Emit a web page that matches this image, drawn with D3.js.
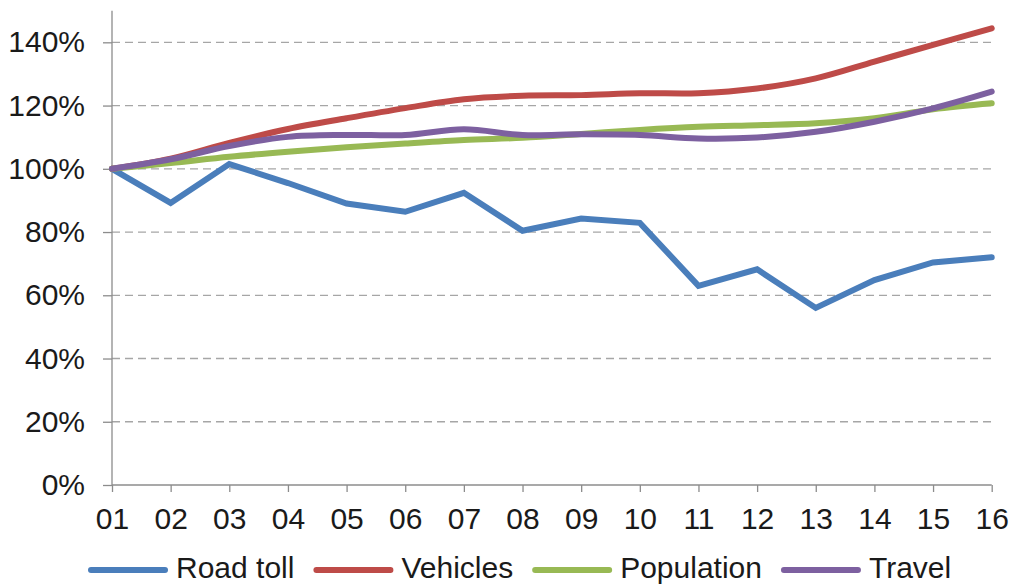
<!DOCTYPE html>
<html>
<head>
<meta charset="utf-8">
<script src="https://cdn.jsdelivr.net/npm/d3@7"></script>
<style>
  html, body { margin: 0; padding: 0; background: #fff; }
  svg { display: block; font-family: "Liberation Sans", Arial, sans-serif; }
</style>
</head>
<body>
<svg id="chart" width="1011" height="586"></svg>
<script>
// Year labels (2001–2016) and indexed series, 2001 = 100%
const years = ["01","02","03","04","05","06","07","08","09","10","11","12","13","14","15","16"];
const roadToll   = [100, 89.2, 101.5, 95.5, 89.0, 86.4, 92.4, 80.4, 84.3, 82.9, 63.0, 68.2, 56.0, 64.8, 70.4, 72.0];
const vehicles   = [100, 103.2, 108.2, 112.6, 116.0, 119.2, 122.0, 123.1, 123.3, 123.9, 123.9, 125.4, 128.6, 133.9, 139.2, 144.4];
const population = [100, 101.8, 103.8, 105.4, 106.8, 108.0, 109.1, 109.8, 111.0, 112.3, 113.3, 113.8, 114.4, 116.0, 118.8, 120.7];
const travel     = [100, 103.0, 107.2, 110.1, 110.7, 110.7, 112.5, 110.7, 110.9, 110.7, 109.6, 109.9, 111.7, 114.9, 119.1, 124.4];
const yTicks     = [0, 20, 40, 60, 80, 100, 120, 140];
const seriesNames = ["Road toll", "Vehicles", "Population", "Travel"];

const series = [
  { name: seriesNames[0], values: roadToll,   color: "#4a7ebb", smooth: false },
  { name: seriesNames[1], values: vehicles,   color: "#be4b48", smooth: true },
  { name: seriesNames[2], values: population, color: "#98b954", smooth: true },
  { name: seriesNames[3], values: travel,     color: "#7d60a0", smooth: true }
];

const svg = d3.select("#chart");
const plotLeft = 112, plotRight = 991.7, plotTop = 10.7, plotBottom = 485;

const x = d3.scalePoint().domain(years).range([plotLeft, plotRight]);
const y = d3.scaleLinear().domain([0, 150]).range([plotBottom, plotTop]);

const axisColor = "#8c8c8c";
const textColor = "#1a1a1a";
const fontSize = 30;

// Dashed horizontal gridlines
svg.append("g")
  .selectAll("line")
  .data(yTicks.filter(d => d > 0))
  .join("line")
  .attr("x1", plotLeft).attr("x2", plotRight)
  .attr("y1", d => y(d)).attr("y2", d => y(d))
  .attr("stroke", "#a6a6a6")
  .attr("stroke-width", 1.3)
  .attr("stroke-dasharray", "8,5");

// Y axis
const yAxis = svg.append("g")
  .attr("transform", `translate(${plotLeft},0)`)
  .call(d3.axisLeft(y).tickValues(yTicks).tickFormat(d => d + "%").tickSize(9).tickPadding(18));
yAxis.select(".domain").attr("stroke", axisColor).attr("stroke-width", 1.3)
  .attr("d", `M0,${plotTop}V${plotBottom}`);
yAxis.selectAll(".tick line").attr("stroke", axisColor).attr("stroke-width", 1.3);
yAxis.selectAll(".tick text")
  .attr("fill", textColor)
  .style("font-size", fontSize + "px")
  .style("font-family", "'Liberation Sans', Arial, sans-serif");

// X axis
const xAxis = svg.append("g")
  .attr("transform", `translate(0,${plotBottom})`)
  .call(d3.axisBottom(x).tickSize(7).tickPadding(16));
xAxis.select(".domain").attr("stroke", axisColor).attr("stroke-width", 1.3)
  .attr("d", `M${plotLeft},0H${plotRight}`);
xAxis.selectAll(".tick line").attr("stroke", axisColor).attr("stroke-width", 1.3);
xAxis.selectAll(".tick text")
  .attr("fill", textColor)
  .style("font-size", fontSize + "px")
  .style("font-family", "'Liberation Sans', Arial, sans-serif");

// Series lines
series.forEach(s => {
  const line = d3.line()
    .x((d, i) => x(years[i]))
    .y(d => y(d))
    .curve(s.smooth ? d3.curveCatmullRom.alpha(0.5) : d3.curveLinear);
  svg.append("path")
    .datum(s.values)
    .attr("fill", "none")
    .attr("stroke", s.color)
    .attr("stroke-width", 6)
    .attr("stroke-linecap", "round")
    .attr("stroke-linejoin", s.smooth ? "round" : "miter")
    .attr("d", line);
});

// Legend: swatch line, then label, laid out left to right
const legend = svg.append("g");
let lx = 88;
const ly = 570;
series.forEach(s => {
  legend.append("line")
    .attr("x1", lx + 3).attr("x2", lx + 77)
    .attr("y1", ly).attr("y2", ly)
    .attr("stroke", s.color)
    .attr("stroke-width", 6)
    .attr("stroke-linecap", "round");
  const t = legend.append("text")
    .attr("x", lx + 88)
    .attr("y", 577.5)
    .attr("fill", textColor)
    .style("font-size", fontSize + "px")
    .text(s.name);
  lx = lx + 88 + t.node().getComputedTextLength() + 19;
});
</script>
</body>
</html>
